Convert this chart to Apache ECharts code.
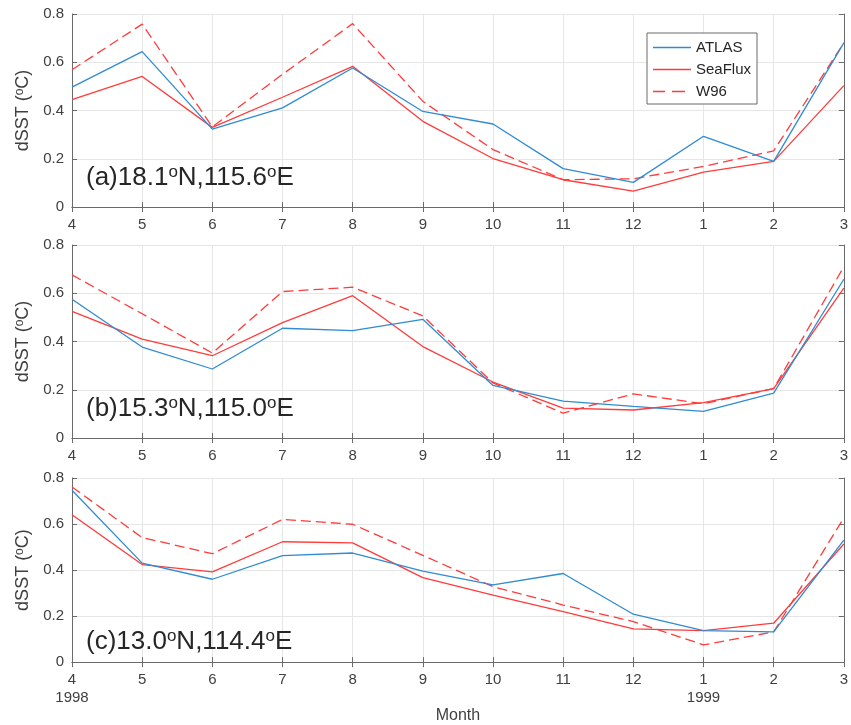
<!DOCTYPE html>
<html><head><meta charset="utf-8">
<script src="https://cdn.jsdelivr.net/npm/echarts@6/dist/echarts.min.js"></script>
<style>html,body{margin:0;padding:0;background:#fff}#c{width:851px;height:725px}</style>
</head><body><div id="c"></div>
<script>
// ---- data ----
const months = ['4','5','6','7','8','9','10','11','12','1','2','3'];
const yearUnder = {'4':'1998','1':'1999'};
const yMin = 0, yMax = 0.8, yStep = 0.2;
const seriesNames = ['ATLAS','SeaFlux','W96'];
const panelLat = ['(a)18.1','(b)15.3','(c)13.0'];
const panelLon = ['N,115.6','N,115.0','N,114.4'];

const atlasA   = [0.497,0.644,0.323,0.411,0.576,0.396,0.344,0.159,0.102,0.293,0.189,0.680];
const seafluxA = [0.445,0.541,0.330,0.455,0.583,0.355,0.201,0.113,0.066,0.145,0.189,0.503];
const w96A     = [0.569,0.758,0.332,0.550,0.760,0.438,0.238,0.113,0.117,0.168,0.233,0.680];

const atlasB   = [0.575,0.377,0.286,0.455,0.445,0.492,0.218,0.153,0.131,0.110,0.186,0.658];
const seafluxB = [0.525,0.410,0.341,0.478,0.590,0.379,0.232,0.124,0.116,0.147,0.205,0.621];
const w96B     = [0.676,0.515,0.352,0.607,0.625,0.506,0.228,0.103,0.183,0.142,0.205,0.710];

const atlasC   = [0.747,0.430,0.360,0.463,0.474,0.395,0.336,0.385,0.208,0.137,0.131,0.530];
const seafluxC = [0.640,0.424,0.392,0.523,0.518,0.367,0.291,0.219,0.144,0.137,0.169,0.513];
const w96C     = [0.761,0.541,0.471,0.620,0.599,0.464,0.328,0.248,0.176,0.075,0.131,0.627];

const panels = [[atlasA,seafluxA,w96A],[atlasB,seafluxB,w96B],[atlasC,seafluxC,w96C]];

// ---- styling ----
const FONT = '"Liberation Sans", Arial, sans-serif';
const BLUE = '#2f8bd3', RED = '#ff3b3b';
const AXIS = '#6a6a6a', TXT = '#404040', GRIDC = '#e6e6e6';
const gridTops = [14, 245, 478];
const L = 72, W = 772, H = 193;
const styles = [
  {color: BLUE, width: 1.3, type: 'solid'},
  {color: RED, width: 1.3, type: 'solid'},
  {color: RED, width: 1.3, type: [10, 5]}
];
const legendIcons = [
  'path://M0,0h38v1.3h-38z',
  'path://M0,0h38v1.3h-38z',
  'path://M0,0h12v1.3h-12z M19,0h13v1.3h-13z M38,0h0v1.3z'
];

const grid = [], xAxis = [], yAxis = [], series = [], title = [];
panels.forEach((p, i) => {
  grid.push({left: L, top: gridTops[i], width: W, height: H, show: false});
  const last = i === 2;
  xAxis.push({
    type: 'category', gridIndex: i, data: months, boundaryGap: false, position: 'bottom',
    axisLine: {show: true, lineStyle: {color: AXIS, width: 1}},
    axisTick: {show: true, inside: true, length: 5, lineStyle: {color: AXIS}},
    axisLabel: {
      color: TXT, fontSize: 15, fontFamily: FONT, margin: 9, lineHeight: 18,
      formatter: v => last && yearUnder[v] ? v + '\n' + yearUnder[v] : v
    },
    splitLine: {show: true, lineStyle: {color: GRIDC, width: 1}},
    name: last ? 'Month' : '', nameLocation: 'middle', nameGap: 36,
    nameTextStyle: {color: TXT, fontSize: 16, fontFamily: FONT}
  });
  xAxis.push({
    type: 'category', gridIndex: i, data: months, boundaryGap: false, position: 'top',
    axisLine: {show: true, lineStyle: {color: AXIS, width: 1}},
    axisTick: {show: true, inside: true, length: 5, lineStyle: {color: AXIS}},
    axisLabel: {show: false}, splitLine: {show: false}
  });
  yAxis.push({
    type: 'value', gridIndex: i, min: yMin, max: yMax, interval: yStep, position: 'left',
    axisLine: {show: true, lineStyle: {color: AXIS, width: 1}},
    axisTick: {show: true, inside: true, length: 5, lineStyle: {color: AXIS}},
    axisLabel: {color: TXT, fontSize: 15, fontFamily: FONT, margin: 8},
    splitLine: {show: true, lineStyle: {color: GRIDC, width: 1}},
    name: '{a|dSST (}{s|o}{a|C)}', nameLocation: 'middle', nameGap: 34, nameRotate: 90,
    nameTextStyle: {
      color: TXT, fontFamily: FONT,
      rich: {
        a: {fontSize: 18, color: TXT, fontFamily: FONT, lineHeight: 20},
        s: {fontSize: 12, color: TXT, fontFamily: FONT, verticalAlign: 'top', lineHeight: 20}
      }
    }
  });
  yAxis.push({
    type: 'value', gridIndex: i, min: yMin, max: yMax, interval: yStep, position: 'right',
    axisLine: {show: true, lineStyle: {color: AXIS, width: 1}},
    axisTick: {show: true, inside: true, length: 5, lineStyle: {color: AXIS}},
    axisLabel: {show: false}, splitLine: {show: false}
  });
  p.forEach((vals, k) => {
    series.push({
      name: seriesNames[k], type: 'line', xAxisIndex: 2 * i, yAxisIndex: 2 * i,
      data: vals, symbol: 'none', smooth: false, silent: true, animation: false,
      lineStyle: styles[k], itemStyle: {color: styles[k].color}, z: 3 - k
    });
  });
  title.push({
    text: '{a|' + panelLat[i] + '}{s|o}{a|' + panelLon[i] + '}{s|o}{a|E}',
    left: 86, top: gridTops[i] + 149,
    padding: 0,
    textStyle: {
      fontFamily: FONT, fontWeight: 'normal',
      rich: {
        a: {fontSize: 26, color: '#262626', fontFamily: FONT, fontWeight: 'normal', lineHeight: 30},
        s: {fontSize: 17, color: '#262626', fontFamily: FONT, fontWeight: 'normal', verticalAlign: 'top', lineHeight: 30, padding: [1, 0, 0, 0]}
      }
    }
  });
});

const chart = echarts.init(document.getElementById('c'), null, {renderer: 'canvas'});
chart.setOption({
  backgroundColor: '#fff',
  animation: false,
  title, grid, xAxis, yAxis, series,
  legend: {
    data: seriesNames.map((n, k) => ({name: n, icon: legendIcons[k]})),
    orient: 'vertical', left: 647, top: 33,
    padding: [7, 6, 5, 6], itemGap: 7, itemWidth: 38, itemHeight: 14,
    symbolKeepAspect: true,
    borderColor: '#6a6a6a', borderWidth: 1, backgroundColor: '#fff',
    textStyle: {color: '#262626', fontSize: 15, fontFamily: FONT},
    selectedMode: false
  }
});
</script></body></html>
